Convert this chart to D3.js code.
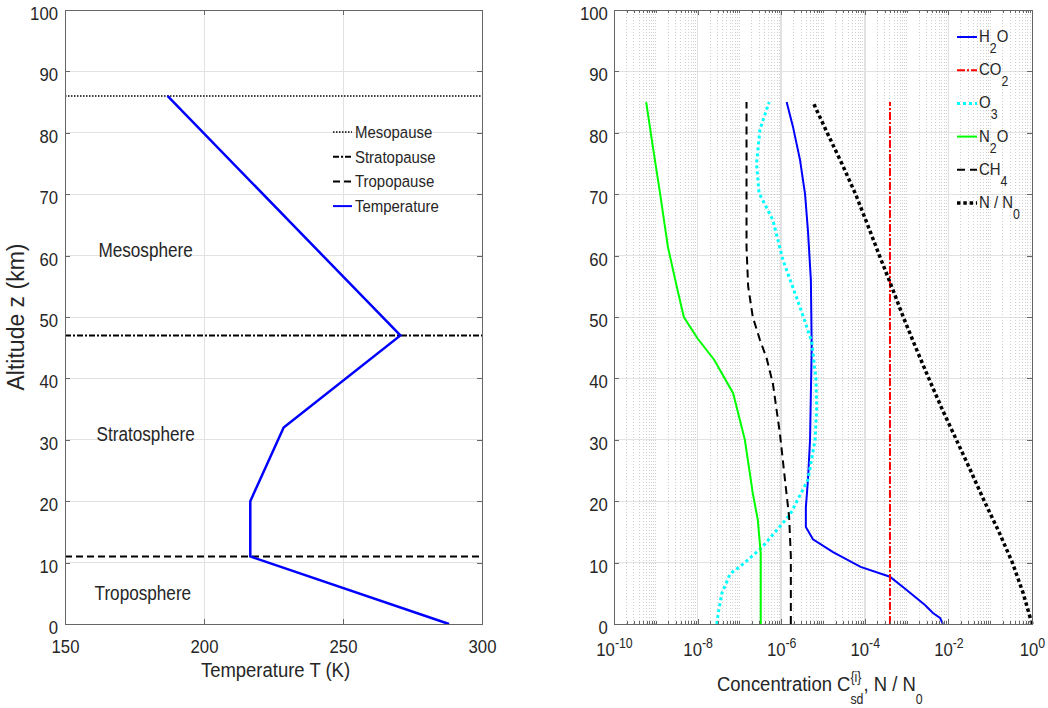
<!DOCTYPE html>
<html><head><meta charset="utf-8">
<script src="https://cdn.jsdelivr.net/npm/d3@7"></script>
<style>
body{margin:0;background:#fff;}
svg{display:block;font-family:"Liberation Sans",Arial,Helvetica,sans-serif;}
</style>
</head><body>
<svg id="c" width="1048" height="708"></svg>
<script>
// ---------------- data ----------------
const altTicks = [0,10,20,30,40,50,60,70,80,90,100];
const tempTicks = [150,200,250,300];
const decadeExps = [-10,-9,-8,-7,-6,-5,-4,-3,-2,-1,0];
const labeledExps = [-10,-8,-6,-4,-2,0];

const tempAlt = [0,11,20,32,47,86];
const tempK   = [288.15,216.65,216.65,228.65,270.65,186.87];

const layerNames = ["Mesopause","Stratopause","Tropopause"];
const layerAlt   = [86,47,11];
const regionNames = ["Mesosphere","Stratosphere","Troposphere"];

const h2oAlt  = [0,1,1.8,3.1,6,7.7,9.3,11.7,13.8,15.8,19,23.5,30,45,56,64,70,75.6,81,85];
const h2oConc = [7.41e-3,6.31e-3,4.27e-3,2.75e-3,8.32e-4,3.98e-4,7.94e-5,1.74e-5,5.75e-6,3.89e-6,3.89e-6,4.37e-6,4.90e-6,5.37e-6,5.13e-6,4.37e-6,3.72e-6,2.82e-6,1.91e-6,1.35e-6];

const co2Alt  = [0,85];
const co2Conc = [4.0e-4,4.0e-4];

const o3Alt  = [0,2,5,8.2,9.3,12.4,17.8,23.5,30,35.3,40,46,51.6,59.3,65.8,70.2,75,80.5,85];
const o3Conc = [2.88e-8,3.16e-8,3.80e-8,6.03e-8,1.02e-7,3.39e-7,1.62e-6,4.37e-6,6.46e-6,7.08e-6,6.76e-6,5.37e-6,2.82e-6,1.10e-6,6.31e-7,2.95e-7,2.57e-7,3.09e-7,5.13e-7];

const n2oAlt  = [0,11.5,17,21.3,30,37.6,43,46.5,50,55,61.4,70.2,77.7,85];
const n2oConc = [3.24e-7,3.24e-7,2.75e-7,2.09e-7,1.35e-7,7.08e-8,2.51e-8,1.0e-8,4.68e-9,3.16e-9,1.95e-9,1.26e-9,8.51e-10,5.89e-10];

const ch4Alt  = [0,11,17.4,23.5,31,39.2,43.3,46.3,50,55,61.4,85];
const ch4Conc = [1.70e-6,1.70e-6,1.55e-6,1.23e-6,9.33e-7,6.31e-7,4.47e-7,3.09e-7,2.09e-7,1.62e-7,1.48e-7,1.48e-7];

const nAlt   = [0,5,10,15,20,25,30,35,40,45,50,55,60,65,70,75,80,85];
const nRatio = [1,0.617,0.339,0.162,0.0724,0.0339,0.0155,7.08e-3,3.39e-3,1.66e-3,8.32e-4,4.37e-4,2.24e-4,1.17e-4,6.03e-5,2.82e-5,1.26e-5,5.75e-6];

const speciesLabels = ["H_2O","CO_2","O_3","N_2O","CH_4","N / N_0"];

// ---------------- layout / style ----------------
const SX = 0.88;
const TXT = "#262626", AXC = "#666", GRID = "#e2e2e2", MINOR = "#d0d0d0";
const svg = d3.select("#c");
const yScale = d3.scaleLinear().domain([0,100]).range([624,10]);
const xT = d3.scaleLinear().domain([150,300]).range([65,482]);
const xC = d3.scaleLog().domain([1e-10,1]).range([614,1032]);

const gGrid = svg.append("g").attr("shape-rendering","crispEdges");
// left grid
[200,250].forEach(v=>gGrid.append("line").attr("x1",xT(v)).attr("x2",xT(v)).attr("y1",yScale(0)).attr("y2",yScale(100)).attr("stroke",GRID));
altTicks.slice(1,-1).forEach(a=>{
  gGrid.append("line").attr("x1",xT(150)).attr("x2",xT(300)).attr("y1",yScale(a)).attr("y2",yScale(a)).attr("stroke",GRID);
  gGrid.append("line").attr("x1",xC(1e-10)).attr("x2",xC(1)).attr("y1",yScale(a)).attr("y2",yScale(a)).attr("stroke",GRID);
});
// right grid: minor dotted and major
const minorVals = [];
decadeExps.slice(0,-1).forEach(e=>{
  for(let k=1;k<=9;k++){
    const v = k*Math.pow(10,e);
    if(k===1 && labeledExps.includes(e)) continue;
    minorVals.push(v);
  }
});
minorVals.forEach(v=>gGrid.append("line").attr("x1",xC(v)).attr("x2",xC(v)).attr("y1",yScale(0)).attr("y2",yScale(100))
  .attr("stroke",MINOR).attr("stroke-dasharray","1 2"));
labeledExps.slice(1,-1).forEach(e=>{
  const v=Math.pow(10,e);
  gGrid.append("line").attr("x1",xC(v)).attr("x2",xC(v)).attr("y1",yScale(0)).attr("y2",yScale(100)).attr("stroke",GRID).attr("stroke-width",1.5);
});

// ---------------- left panel data ----------------
const layerStyle = {
  "Mesopause":{dash:"1.5 1.5",w:1.5},
  "Stratopause":{dash:"6 2 2 2",w:2},
  "Tropopause":{dash:"7 4",w:2}
};
layerNames.forEach((n,i)=>{
  svg.append("line").attr("x1",xT(150)).attr("x2",xT(300)).attr("y1",yScale(layerAlt[i])).attr("y2",yScale(layerAlt[i]))
    .attr("stroke","#000").attr("stroke-width",layerStyle[n].w).attr("stroke-dasharray",layerStyle[n].dash);
});
const tempData = tempAlt.map((a,i)=>({a,t:tempK[i]}));
svg.append("path").datum(tempData)
  .attr("d",d3.line().x(d=>xT(d.t)).y(d=>yScale(d.a)))
  .attr("fill","none").attr("stroke","#0000ff").attr("stroke-width",2.5);

function stxt(g,x,y,str,size,anchor){
  return g.append("text").attr("transform",`translate(${x},${y}) scale(${SX},1)`)
    .attr("font-size",size).attr("fill",TXT).attr("text-anchor",anchor||"start").text(str);
}
// region labels
const regionPos = [[179,59.8],[179,29.8],[178,3.9]];
regionNames.forEach((n,i)=>stxt(svg,xT(regionPos[i][0]),yScale(regionPos[i][1]),n,19.5,"middle"));

// left legend
const legL = svg.append("g");
const legItems = layerNames.concat(["Temperature"]);
legItems.forEach((n,i)=>{
  const y = 132 + i*24.7;
  const st = layerStyle[n] || {dash:null,w:2};
  legL.append("line").attr("x1",333).attr("x2",352).attr("y1",y).attr("y2",y)
    .attr("stroke", n==="Temperature" ? "#0000ff" : "#000").attr("stroke-width", n==="Mesopause"?1.5:2)
    .attr("stroke-dasharray",st.dash);
  stxt(legL,355,y+6,n,17);
});

// ---------------- right panel data ----------------
const series = [
  {alt:h2oAlt, c:h2oConc, color:"#0000ff", w:2, dash:null},
  {alt:co2Alt, c:co2Conc, color:"#ff0000", w:2, dash:"8 2 2 2"},
  {alt:o3Alt,  c:o3Conc,  color:"#00ffff", w:3, dash:"3 3"},
  {alt:n2oAlt, c:n2oConc, color:"#00ff00", w:2, dash:null},
  {alt:ch4Alt, c:ch4Conc, color:"#000000", w:2, dash:"8 5"},
  {alt:nAlt,   c:nRatio,  color:"#000000", w:3.5, dash:"3.5 2.8"}
];
series.forEach(s=>{
  const d = s.alt.map((a,i)=>({a,c:s.c[i]}));
  svg.append("path").datum(d)
    .attr("d",d3.line().x(p=>xC(p.c)).y(p=>yScale(p.a)))
    .attr("fill","none").attr("stroke",s.color).attr("stroke-width",s.w)
    .attr("stroke-dasharray",s.dash);
});

// right legend
function richText(g,x,y,label,size,subSize,subDy,anchor){
  const t = g.append("text").attr("transform",`translate(${x},${y}) scale(${SX},1)`)
    .attr("font-size",size).attr("fill",TXT).attr("text-anchor",anchor||"start");
  const parts = label.split(/(_.)/).filter(p=>p.length);
  let shifted=false;
  parts.forEach(p=>{
    if(p.startsWith("_")){
      t.append("tspan").attr("font-size",subSize).attr("dy",subDy).text(p.slice(1));
      shifted=true;
    } else {
      const ts = t.append("tspan").text(p);
      if(shifted){ ts.attr("dy",-subDy); shifted=false; }
    }
  });
  return t;
}
const legR = svg.append("g");
speciesLabels.forEach((lab,i)=>{
  const y = 37 + i*33.2;
  const s = series[i];
  legR.append("line").attr("x1",957).attr("x2",977).attr("y1",y).attr("y2",y)
    .attr("stroke",s.color).attr("stroke-width",s.w).attr("stroke-dasharray",s.dash);
  richText(legR,979,y+5,lab,17,14,11);
});

// ---------------- axes ----------------
function styleAxis(g){
  g.select(".domain").remove();
  g.selectAll(".tick line").attr("stroke",AXC).attr("shape-rendering","crispEdges");
  g.selectAll("text").attr("font-size",19).attr("fill",TXT).attr("font-family",null);
  g.attr("font-family",null);
}
// left panel
svg.append("g").attr("transform","translate(0,624)")
  .call(d3.axisBottom(xT).tickValues(tempTicks).tickSize(-5).tickFormat(d3.format("d")))
  .call(styleAxis)
  .call(g=>g.selectAll("text").attr("dy",null).attr("y",29).attr("transform",`scale(${SX},1)`));
svg.append("g").attr("transform","translate(0,10)")
  .call(d3.axisTop(xT).tickValues(tempTicks).tickSize(-5).tickFormat("")).call(styleAxis);
svg.append("g").attr("transform","translate(65,0)")
  .call(d3.axisLeft(yScale).tickValues(altTicks).tickSize(-5).tickFormat(d3.format("d")))
  .call(styleAxis)
  .call(g=>g.selectAll("text").attr("dy",null).attr("y",9.5).attr("x",-8).attr("transform",`scale(${SX},1)`));
svg.append("g").attr("transform","translate(482,0)")
  .call(d3.axisRight(yScale).tickValues(altTicks).tickSize(-5).tickFormat("")).call(styleAxis);

// right panel
const majorVals = labeledExps.map(e=>Math.pow(10,e));
function logLabel(g){
  g.selectAll("text").each(function(d){
    const e = Math.round(Math.log10(d));
    const t = d3.select(this).text(null).attr("dy",null).attr("y",32.5).attr("transform",`scale(${SX},1)`);
    t.append("tspan").text("10");
    t.append("tspan").attr("font-size",14).attr("dy",-8.5).text(String(e));
  });
}
svg.append("g").attr("transform","translate(0,624)")
  .call(d3.axisBottom(xC).tickValues(majorVals).tickSize(-5).tickFormat(()=>"x"))
  .call(styleAxis).call(logLabel);
svg.append("g").attr("transform","translate(0,624)")
  .call(d3.axisBottom(xC).tickValues(minorVals).tickSize(-3).tickFormat("")).call(styleAxis);
svg.append("g").attr("transform","translate(0,10)")
  .call(d3.axisTop(xC).tickValues(majorVals).tickSize(-5).tickFormat("")).call(styleAxis);
svg.append("g").attr("transform","translate(0,10)")
  .call(d3.axisTop(xC).tickValues(minorVals).tickSize(-3).tickFormat("")).call(styleAxis);
svg.append("g").attr("transform","translate(614,0)")
  .call(d3.axisLeft(yScale).tickValues(altTicks).tickSize(-5).tickFormat(d3.format("d")))
  .call(styleAxis)
  .call(g=>g.selectAll("text").attr("dy",null).attr("y",9.5).attr("x",-7).attr("transform",`scale(${SX},1)`));
svg.append("g").attr("transform","translate(1032,0)")
  .call(d3.axisRight(yScale).tickValues(altTicks).tickSize(-5).tickFormat("")).call(styleAxis);

// boxes
[[xT(150),xT(300)],[xC(1e-10),xC(1)]].forEach(([a,b])=>{
  svg.append("rect").attr("x",a).attr("y",yScale(100)).attr("width",b-a).attr("height",yScale(0)-yScale(100))
    .attr("fill","none").attr("stroke",AXC).attr("shape-rendering","crispEdges");
});

// axis titles
stxt(svg,(xT(150)+xT(300))/2+2,677,"Temperature T (K)",21,"middle");
svg.append("text").attr("transform","translate(24,317) rotate(-90)")
  .attr("font-size",23).attr("fill",TXT).attr("text-anchor","middle").text("Altitude z (km)");
const xl = svg.append("text").attr("transform",`translate(717,691) scale(${SX},1)`)
  .attr("font-size",21).attr("fill",TXT);
xl.append("tspan").text("Concentration C");
const sup = xl.append("tspan").attr("font-size",14).attr("dy",-9.5).text("{i}");
const supW = sup.node().getComputedTextLength();
xl.append("tspan").attr("font-size",14).attr("dy",22.5).attr("dx",-supW).text("sd");
xl.append("tspan").attr("dy",-13).text(", N / N");
xl.append("tspan").attr("font-size",14).attr("dy",13).text("0");
</script>
</body></html>
